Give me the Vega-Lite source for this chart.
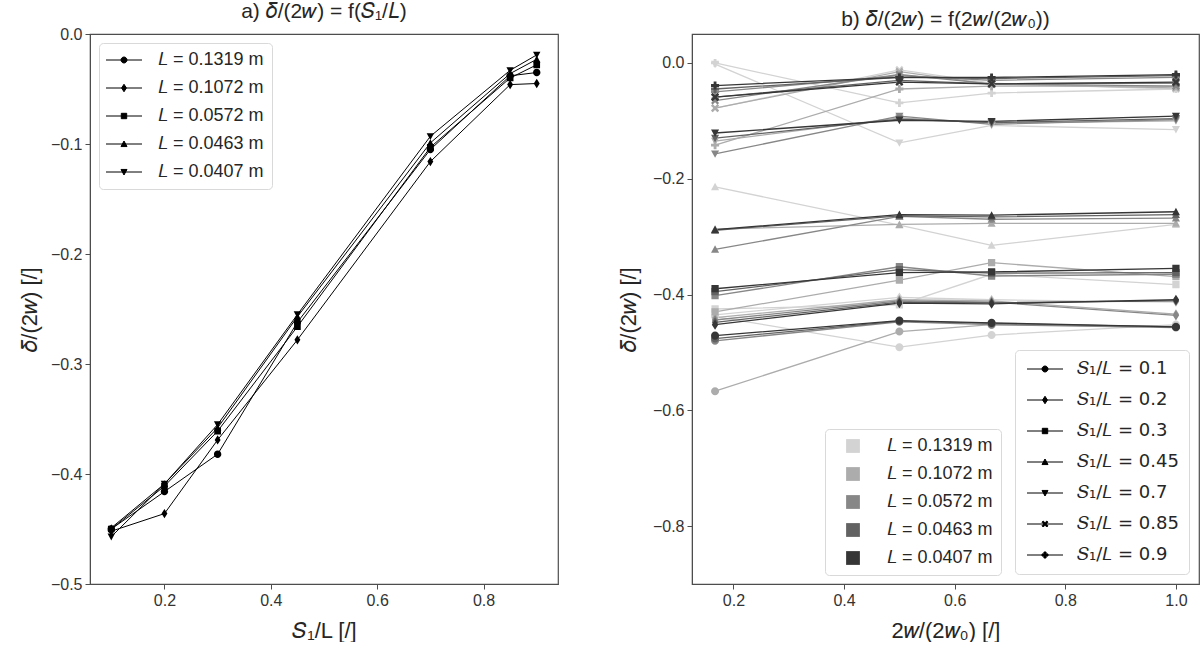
{
  "$schema": "https://vega.github.io/schema/vega-lite/v6.json",
  "background": "white",
  "padding": {"left": 17, "top": 0, "right": 0, "bottom": 0},
  "spacing": 56,
  "datasets": {
    "left": [
      {"L": "0.1319", "S": 0.1, "d": -0.450}, {"L": "0.1319", "S": 0.2, "d": -0.416}, {"L": "0.1319", "S": 0.3, "d": -0.382}, {"L": "0.1319", "S": 0.45, "d": -0.262}, {"L": "0.1319", "S": 0.7, "d": -0.105}, {"L": "0.1319", "S": 0.85, "d": -0.038}, {"L": "0.1319", "S": 0.9, "d": -0.035},
      {"L": "0.1072", "S": 0.1, "d": -0.452}, {"L": "0.1072", "S": 0.2, "d": -0.436}, {"L": "0.1072", "S": 0.3, "d": -0.369}, {"L": "0.1072", "S": 0.45, "d": -0.278}, {"L": "0.1072", "S": 0.7, "d": -0.116}, {"L": "0.1072", "S": 0.85, "d": -0.046}, {"L": "0.1072", "S": 0.9, "d": -0.045},
      {"L": "0.0572", "S": 0.1, "d": -0.450}, {"L": "0.0572", "S": 0.2, "d": -0.411}, {"L": "0.0572", "S": 0.3, "d": -0.361}, {"L": "0.0572", "S": 0.45, "d": -0.266}, {"L": "0.0572", "S": 0.7, "d": -0.103}, {"L": "0.0572", "S": 0.85, "d": -0.040}, {"L": "0.0572", "S": 0.9, "d": -0.028},
      {"L": "0.0463", "S": 0.1, "d": -0.449}, {"L": "0.0463", "S": 0.2, "d": -0.409}, {"L": "0.0463", "S": 0.3, "d": -0.358}, {"L": "0.0463", "S": 0.45, "d": -0.257}, {"L": "0.0463", "S": 0.7, "d": -0.099}, {"L": "0.0463", "S": 0.85, "d": -0.036}, {"L": "0.0463", "S": 0.9, "d": -0.023},
      {"L": "0.0407", "S": 0.1, "d": -0.457}, {"L": "0.0407", "S": 0.2, "d": -0.409}, {"L": "0.0407", "S": 0.3, "d": -0.355}, {"L": "0.0407", "S": 0.45, "d": -0.255}, {"L": "0.0407", "S": 0.7, "d": -0.093}, {"L": "0.0407", "S": 0.85, "d": -0.033}, {"L": "0.0407", "S": 0.9, "d": -0.019}
    ],
    "right": [
      {"L": "0.1319", "S": "0.1", "w": 0.1667, "d": -0.438}, {"L": "0.1319", "S": "0.1", "w": 0.5, "d": -0.491}, {"L": "0.1319", "S": "0.1", "w": 0.6667, "d": -0.470}, {"L": "0.1319", "S": "0.1", "w": 1.0, "d": -0.452},
      {"L": "0.1319", "S": "0.2", "w": 0.1667, "d": -0.435}, {"L": "0.1319", "S": "0.2", "w": 0.5, "d": -0.405}, {"L": "0.1319", "S": "0.2", "w": 0.6667, "d": -0.409}, {"L": "0.1319", "S": "0.2", "w": 1.0, "d": -0.413},
      {"L": "0.1319", "S": "0.3", "w": 0.1667, "d": -0.425}, {"L": "0.1319", "S": "0.3", "w": 0.5, "d": -0.418}, {"L": "0.1319", "S": "0.3", "w": 0.6667, "d": -0.365}, {"L": "0.1319", "S": "0.3", "w": 1.0, "d": -0.383},
      {"L": "0.1319", "S": "0.45", "w": 0.1667, "d": -0.214}, {"L": "0.1319", "S": "0.45", "w": 0.5, "d": -0.280}, {"L": "0.1319", "S": "0.45", "w": 0.6667, "d": -0.315}, {"L": "0.1319", "S": "0.45", "w": 1.0, "d": -0.279},
      {"L": "0.1319", "S": "0.7", "w": 0.1667, "d": -0.002}, {"L": "0.1319", "S": "0.7", "w": 0.5, "d": -0.138}, {"L": "0.1319", "S": "0.7", "w": 0.6667, "d": -0.108}, {"L": "0.1319", "S": "0.7", "w": 1.0, "d": -0.115},
      {"L": "0.1319", "S": "0.85", "w": 0.1667, "d": -0.078}, {"L": "0.1319", "S": "0.85", "w": 0.5, "d": -0.012}, {"L": "0.1319", "S": "0.85", "w": 0.6667, "d": -0.035}, {"L": "0.1319", "S": "0.85", "w": 1.0, "d": -0.045},
      {"L": "0.1319", "S": "0.9", "w": 0.1667, "d": 0.000}, {"L": "0.1319", "S": "0.9", "w": 0.5, "d": -0.069}, {"L": "0.1319", "S": "0.9", "w": 0.6667, "d": -0.052}, {"L": "0.1319", "S": "0.9", "w": 1.0, "d": -0.045},
      {"L": "0.1072", "S": "0.1", "w": 0.1667, "d": -0.567}, {"L": "0.1072", "S": "0.1", "w": 0.5, "d": -0.464}, {"L": "0.1072", "S": "0.1", "w": 0.6667, "d": -0.452}, {"L": "0.1072", "S": "0.1", "w": 1.0, "d": -0.455},
      {"L": "0.1072", "S": "0.2", "w": 0.1667, "d": -0.440}, {"L": "0.1072", "S": "0.2", "w": 0.5, "d": -0.409}, {"L": "0.1072", "S": "0.2", "w": 0.6667, "d": -0.411}, {"L": "0.1072", "S": "0.2", "w": 1.0, "d": -0.434},
      {"L": "0.1072", "S": "0.3", "w": 0.1667, "d": -0.430}, {"L": "0.1072", "S": "0.3", "w": 0.5, "d": -0.375}, {"L": "0.1072", "S": "0.3", "w": 0.6667, "d": -0.345}, {"L": "0.1072", "S": "0.3", "w": 1.0, "d": -0.369},
      {"L": "0.1072", "S": "0.45", "w": 0.1667, "d": -0.287}, {"L": "0.1072", "S": "0.45", "w": 0.5, "d": -0.279}, {"L": "0.1072", "S": "0.45", "w": 0.6667, "d": -0.277}, {"L": "0.1072", "S": "0.45", "w": 1.0, "d": -0.277},
      {"L": "0.1072", "S": "0.7", "w": 0.1667, "d": -0.135}, {"L": "0.1072", "S": "0.7", "w": 0.5, "d": -0.095}, {"L": "0.1072", "S": "0.7", "w": 0.6667, "d": -0.104}, {"L": "0.1072", "S": "0.7", "w": 1.0, "d": -0.100},
      {"L": "0.1072", "S": "0.85", "w": 0.1667, "d": -0.078}, {"L": "0.1072", "S": "0.85", "w": 0.5, "d": -0.015}, {"L": "0.1072", "S": "0.85", "w": 0.6667, "d": -0.037}, {"L": "0.1072", "S": "0.85", "w": 1.0, "d": -0.043},
      {"L": "0.1072", "S": "0.9", "w": 0.1667, "d": -0.142}, {"L": "0.1072", "S": "0.9", "w": 0.5, "d": -0.045}, {"L": "0.1072", "S": "0.9", "w": 0.6667, "d": -0.040}, {"L": "0.1072", "S": "0.9", "w": 1.0, "d": -0.040},
      {"L": "0.0572", "S": "0.1", "w": 0.1667, "d": -0.480}, {"L": "0.0572", "S": "0.1", "w": 0.5, "d": -0.447}, {"L": "0.0572", "S": "0.1", "w": 0.6667, "d": -0.452}, {"L": "0.0572", "S": "0.1", "w": 1.0, "d": -0.457},
      {"L": "0.0572", "S": "0.2", "w": 0.1667, "d": -0.444}, {"L": "0.0572", "S": "0.2", "w": 0.5, "d": -0.411}, {"L": "0.0572", "S": "0.2", "w": 0.6667, "d": -0.413}, {"L": "0.0572", "S": "0.2", "w": 1.0, "d": -0.436},
      {"L": "0.0572", "S": "0.3", "w": 0.1667, "d": -0.402}, {"L": "0.0572", "S": "0.3", "w": 0.5, "d": -0.352}, {"L": "0.0572", "S": "0.3", "w": 0.6667, "d": -0.368}, {"L": "0.0572", "S": "0.3", "w": 1.0, "d": -0.365},
      {"L": "0.0572", "S": "0.45", "w": 0.1667, "d": -0.322}, {"L": "0.0572", "S": "0.45", "w": 0.5, "d": -0.265}, {"L": "0.0572", "S": "0.45", "w": 0.6667, "d": -0.270}, {"L": "0.0572", "S": "0.45", "w": 1.0, "d": -0.268},
      {"L": "0.0572", "S": "0.7", "w": 0.1667, "d": -0.157}, {"L": "0.0572", "S": "0.7", "w": 0.5, "d": -0.092}, {"L": "0.0572", "S": "0.7", "w": 0.6667, "d": -0.106}, {"L": "0.0572", "S": "0.7", "w": 1.0, "d": -0.098},
      {"L": "0.0572", "S": "0.85", "w": 0.1667, "d": -0.065}, {"L": "0.0572", "S": "0.85", "w": 0.5, "d": -0.020}, {"L": "0.0572", "S": "0.85", "w": 0.6667, "d": -0.036}, {"L": "0.0572", "S": "0.85", "w": 1.0, "d": -0.040},
      {"L": "0.0572", "S": "0.9", "w": 0.1667, "d": -0.050}, {"L": "0.0572", "S": "0.9", "w": 0.5, "d": -0.022}, {"L": "0.0572", "S": "0.9", "w": 0.6667, "d": -0.030}, {"L": "0.0572", "S": "0.9", "w": 1.0, "d": -0.025},
      {"L": "0.0463", "S": "0.1", "w": 0.1667, "d": -0.476}, {"L": "0.0463", "S": "0.1", "w": 0.5, "d": -0.446}, {"L": "0.0463", "S": "0.1", "w": 0.6667, "d": -0.450}, {"L": "0.0463", "S": "0.1", "w": 1.0, "d": -0.456},
      {"L": "0.0463", "S": "0.2", "w": 0.1667, "d": -0.448}, {"L": "0.0463", "S": "0.2", "w": 0.5, "d": -0.413}, {"L": "0.0463", "S": "0.2", "w": 0.6667, "d": -0.414}, {"L": "0.0463", "S": "0.2", "w": 1.0, "d": -0.411},
      {"L": "0.0463", "S": "0.3", "w": 0.1667, "d": -0.395}, {"L": "0.0463", "S": "0.3", "w": 0.5, "d": -0.357}, {"L": "0.0463", "S": "0.3", "w": 0.6667, "d": -0.363}, {"L": "0.0463", "S": "0.3", "w": 1.0, "d": -0.362},
      {"L": "0.0463", "S": "0.45", "w": 0.1667, "d": -0.289}, {"L": "0.0463", "S": "0.45", "w": 0.5, "d": -0.264}, {"L": "0.0463", "S": "0.45", "w": 0.6667, "d": -0.266}, {"L": "0.0463", "S": "0.45", "w": 1.0, "d": -0.262},
      {"L": "0.0463", "S": "0.7", "w": 0.1667, "d": -0.130}, {"L": "0.0463", "S": "0.7", "w": 0.5, "d": -0.097}, {"L": "0.0463", "S": "0.7", "w": 0.6667, "d": -0.103}, {"L": "0.0463", "S": "0.7", "w": 1.0, "d": -0.096},
      {"L": "0.0463", "S": "0.85", "w": 0.1667, "d": -0.059}, {"L": "0.0463", "S": "0.85", "w": 0.5, "d": -0.030}, {"L": "0.0463", "S": "0.85", "w": 0.6667, "d": -0.036}, {"L": "0.0463", "S": "0.85", "w": 1.0, "d": -0.035},
      {"L": "0.0463", "S": "0.9", "w": 0.1667, "d": -0.045}, {"L": "0.0463", "S": "0.9", "w": 0.5, "d": -0.025}, {"L": "0.0463", "S": "0.9", "w": 0.6667, "d": -0.027}, {"L": "0.0463", "S": "0.9", "w": 1.0, "d": -0.022},
      {"L": "0.0407", "S": "0.1", "w": 0.1667, "d": -0.471}, {"L": "0.0407", "S": "0.1", "w": 0.5, "d": -0.445}, {"L": "0.0407", "S": "0.1", "w": 0.6667, "d": -0.449}, {"L": "0.0407", "S": "0.1", "w": 1.0, "d": -0.456},
      {"L": "0.0407", "S": "0.2", "w": 0.1667, "d": -0.452}, {"L": "0.0407", "S": "0.2", "w": 0.5, "d": -0.415}, {"L": "0.0407", "S": "0.2", "w": 0.6667, "d": -0.416}, {"L": "0.0407", "S": "0.2", "w": 1.0, "d": -0.409},
      {"L": "0.0407", "S": "0.3", "w": 0.1667, "d": -0.390}, {"L": "0.0407", "S": "0.3", "w": 0.5, "d": -0.362}, {"L": "0.0407", "S": "0.3", "w": 0.6667, "d": -0.361}, {"L": "0.0407", "S": "0.3", "w": 1.0, "d": -0.355},
      {"L": "0.0407", "S": "0.45", "w": 0.1667, "d": -0.288}, {"L": "0.0407", "S": "0.45", "w": 0.5, "d": -0.262}, {"L": "0.0407", "S": "0.45", "w": 0.6667, "d": -0.263}, {"L": "0.0407", "S": "0.45", "w": 1.0, "d": -0.257},
      {"L": "0.0407", "S": "0.7", "w": 0.1667, "d": -0.121}, {"L": "0.0407", "S": "0.7", "w": 0.5, "d": -0.099}, {"L": "0.0407", "S": "0.7", "w": 0.6667, "d": -0.101}, {"L": "0.0407", "S": "0.7", "w": 1.0, "d": -0.092},
      {"L": "0.0407", "S": "0.85", "w": 0.1667, "d": -0.059}, {"L": "0.0407", "S": "0.85", "w": 0.5, "d": -0.033}, {"L": "0.0407", "S": "0.85", "w": 0.6667, "d": -0.036}, {"L": "0.0407", "S": "0.85", "w": 1.0, "d": -0.033},
      {"L": "0.0407", "S": "0.9", "w": 0.1667, "d": -0.039}, {"L": "0.0407", "S": "0.9", "w": 0.5, "d": -0.025}, {"L": "0.0407", "S": "0.9", "w": 0.6667, "d": -0.025}, {"L": "0.0407", "S": "0.9", "w": 1.0, "d": -0.020}
    ]
  },
  "hconcat": [
    {
      "width": 468,
      "height": 550,
      "title": "a) 𝛿/(2𝑤) = f(𝑆₁/𝐿)",
      "data": {"name": "left"},
      "encoding": {
        "x": {
          "field": "S", "type": "quantitative",
          "scale": {"domain": [0.06, 0.94], "nice": false, "zero": false},
          "axis": {"values": [0.2, 0.4, 0.6, 0.8], "format": ".1f", "title": "𝑆₁/L [/]", "titlePadding": 12}
        },
        "y": {
          "field": "d", "type": "quantitative",
          "scale": {"domain": [-0.5, 0], "nice": false, "zero": false},
          "axis": {"values": [-0.5, -0.4, -0.3, -0.2, -0.1, 0], "format": ".1f", "title": "𝛿/(2𝑤) [/]", "titlePadding": 9}
        }
      },
      "layer": [
        {
          "mark": {"type": "line", "color": "black", "strokeWidth": 1},
          "encoding": {"detail": {"field": "L"}}
        },
        {
          "mark": {"type": "point", "filled": true, "stroke": "black", "size": 55, "opacity": 1},
          "encoding": {
            "strokeWidth": {"value": 0},
            "color": {"field": "L", "type": "nominal", "scale": {"range": ["black"]}, "legend": null},
            "shape": {
              "field": "L", "type": "nominal",
              "scale": {
                "domain": ["0.1319", "0.1072", "0.0572", "0.0463", "0.0407"],
                "range": [
                  "M-6,0L6,0M-1,0A1,1,0,1,0,1,0A1,1,0,1,0,-1,0Z",
                  "M-6,0L6,0M0,-1.25L0.8,0L0,1.25L-0.8,0Z",
                  "M-6,0L6,0M-0.9,-0.9L0.9,-0.9L0.9,0.9L-0.9,0.9Z",
                  "M-6,0L6,0M0,-1L1,0.85L-1,0.85Z",
                  "M-6,0L6,0M0,1L1,-0.85L-1,-0.85Z"
                ]
              },
              "legend": {
                "title": null,
                "orient": "top-left",
                "offset": 9,
                "labelExpr": "'𝐿 = ' + datum.label + ' m'",
                "symbolSize": 36,
                "symbolOffset": 8,
                "labelOffset": 25,
                "rowPadding": 10,
                "symbolStrokeColor": "black",
                "symbolFillColor": "black",
                "symbolStrokeWidth": 1
              }
            }
          }
        }
      ]
    },
    {
      "width": 507,
      "height": 550,
      "title": "b) 𝛿/(2𝑤) = f(2𝑤/(2𝑤₀))",
      "data": {"name": "right"},
      "encoding": {
        "x": {
          "field": "w", "type": "quantitative",
          "scale": {"domain": [0.125, 1.0417], "nice": false, "zero": false},
          "axis": {"values": [0.2, 0.4, 0.6, 0.8, 1.0], "format": ".1f", "title": "2𝑤/(2𝑤₀) [/]", "titlePadding": 12}
        },
        "y": {
          "field": "d", "type": "quantitative",
          "scale": {"domain": [-0.9, 0.05], "nice": false, "zero": false},
          "axis": {"values": [-0.8, -0.6, -0.4, -0.2, 0], "format": ".1f", "title": "𝛿/(2𝑤) [/]", "titlePadding": 12}
        },
        "color": {
          "field": "L", "type": "nominal",
          "scale": {"domain": ["0.1319", "0.1072", "0.0572", "0.0463", "0.0407"], "range": ["#d3d3d3", "#acacac", "#878787", "#626262", "#363636"]},
          "legend": {
            "title": null,
            "orient": "none",
            "legendX": 133,
            "legendY": 395,
            "symbolType": "square",
            "symbolSize": 190,
            "symbolStrokeWidth": 0,
            "symbolOpacity": 1,
            "symbolOffset": 11,
            "labelOffset": 25,
            "rowPadding": 10,
            "labelExpr": "'𝐿 = ' + datum.label + ' m'"
          }
        }
      },
      "layer": [
        {
          "mark": {"type": "line", "strokeWidth": 1.3},
          "encoding": {"detail": {"field": "S"}}
        },
        {
          "mark": {"type": "point", "filled": true, "stroke": "black", "size": 65, "opacity": 1},
          "encoding": {
            "strokeWidth": {"value": 0},
            "shape": {
              "field": "S", "type": "nominal",
              "scale": {
                "domain": ["0.1", "0.2", "0.3", "0.45", "0.7", "0.85", "0.9"],
                "range": [
                  "M-6,0L6,0M-1,0A1,1,0,1,0,1,0A1,1,0,1,0,-1,0Z",
                  "M-6,0L6,0M0,-1.25L0.8,0L0,1.25L-0.8,0Z",
                  "M-6,0L6,0M-0.9,-0.9L0.9,-0.9L0.9,0.9L-0.9,0.9Z",
                  "M-6,0L6,0M0,-1L1,0.85L-1,0.85Z",
                  "M-6,0L6,0M0,1L1,-0.85L-1,-0.85Z",
                  "M-6,0L6,0M-1,-0.6L-0.6,-1L0,-0.4L0.6,-1L1,-0.6L0.4,0L1,0.6L0.6,1L0,0.4L-0.6,1L-1,0.6L-0.4,0Z",
                  "M-6,0L6,0M-0.35,-1L0.35,-1L0.35,-0.35L1,-0.35L1,0.35L0.35,0.35L0.35,1L-0.35,1L-0.35,0.35L-1,0.35L-1,-0.35L-0.35,-0.35Z"
                ]
              },
              "legend": {
                "title": null,
                "orient": "bottom-right",
                "offset": 10,
                "padding": 10,
                "labelExpr": "'𝑆₁/𝐿 = ' + datum.label",
                "labelFont": "DejaVu Sans",
                "symbolSize": 36,
                "symbolOffset": 11,
                "labelOffset": 23,
                "rowPadding": 13,
                "symbolStrokeColor": "black",
                "symbolFillColor": "black",
                "symbolStrokeWidth": 1
              }
            }
          }
        }
      ]
    }
  ],
  "resolve": {
    "scale": {"shape": "independent", "color": "independent"},
    "legend": {"shape": "independent", "color": "independent"}
  },
  "config": {
    "font": "Liberation Sans",
    "view": {"stroke": "#4d4d4d", "strokeWidth": 1.2},
    "axis": {
      "grid": false,
      "labelFontSize": 16,
      "labelColor": "#333333",
      "labelPadding": 3,
      "tickColor": "#4d4d4d",
      "tickSize": 5,
      "domainColor": "#4d4d4d",
      "titleFontSize": 22,
      "titleFontWeight": "normal",
      "titleColor": "#262626"
    },
    "title": {"fontSize": 21, "fontWeight": "normal", "color": "#262626", "offset": 4},
    "legend": {
      "labelFontSize": 18,
      "labelColor": "#262626",
      "fillColor": "white",
      "strokeColor": "#d9d9d9",
      "cornerRadius": 4,
      "padding": 8
    }
  }
}
